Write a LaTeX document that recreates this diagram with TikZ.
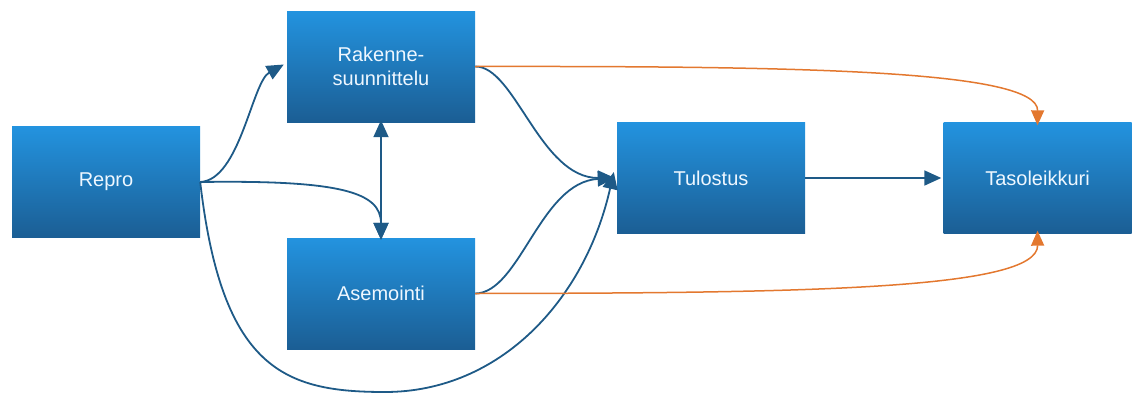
\documentclass[tikz,border=0pt]{standalone}
\usepackage{fontspec}
\setmainfont{Liberation Sans}
\usetikzlibrary{arrows.meta}
\definecolor{boxtop}{HTML}{2393DF}
\definecolor{boxbot}{HTML}{1B5E94}
\definecolor{flowblue}{HTML}{1E5A87}
\definecolor{floworange}{HTML}{E3782F}
\definecolor{labelwhite}{HTML}{EEF7FF}
\tikzset{
  stage/.style={rectangle, minimum width=188pt, minimum height=111pt, inner sep=0pt,
    top color=boxtop, bottom color=boxbot, draw=none,
    text=labelwhite, font=\fontsize{20}{24}\selectfont, align=center},
  bluetip/.tip={Triangle[length=17pt,width=15pt]},
  orangetip/.tip={Triangle[length=15pt,width=13pt]},
  bluelink/.style={draw=flowblue, line width=1.8pt, -bluetip},
  orangelink/.style={draw=floworange, line width=1.5pt, -orangetip},
}
\begin{document}
\begin{tikzpicture}[x=1pt,y=-1pt]
  \useasboundingbox (0,0) rectangle (1134,394);

  % process boxes
  \node[stage] (repro) at (106,182)   {Repro};
  \node[stage] (rak)   at (381,66.5)  {Rakenne-\\suunnittelu};
  \node[stage] (asem)  at (381,293.5) {Asemointi};
  \node[stage] (tul)   at (711,178)   {Tulostus};
  \node[stage] (taso)  at (1037.5,178){Tasoleikkuri};

  % anchors for the incoming arrow tips
  \coordinate (rakin)  at ([xshift=-3pt,yshift=2pt]rak.west);
  \coordinate (tulin)  at ([xshift=-2pt]tul.west);
  \coordinate (tulin2) at ([xshift=-3pt,yshift=6pt]tul.west);
  \coordinate (tastop) at ([yshift=-3pt]taso.north);
  \coordinate (tasbot) at ([yshift=3pt]taso.south);
  \coordinate (low)    at (385,392);

  % blue flows
  \draw[bluelink] (repro.east) .. controls (240,180) and (252,82) .. (rakin);
  \draw[bluelink] (repro.east) .. controls (340,180) and (381,192) .. ([yshift=-2pt]asem.north);
  \draw[bluelink, bluetip-bluetip] ([yshift=2pt]rak.south) -- ([yshift=-2pt]asem.north);
  \draw[flowblue, line width=1.8pt] (repro.east) .. controls (222,370) and (285,392) .. (low);
  \draw[bluelink] (low) .. controls (500,392) and (585,300) .. (tulin2);
  \draw[bluelink] (rak.east) .. controls (515,66) and (540,178) .. (tulin);
  \draw[bluelink] (asem.east) .. controls (520,293) and (540,182) .. (tulin);
  \draw[bluelink] (tul.east) -- ([xshift=-2pt]taso.west);

  % orange flows
  \draw[orangelink] (rak.east) .. controls (800,66) and (1038,70) .. (tastop);
  \draw[orangelink] (asem.east) .. controls (800,293) and (1038,290) .. (tasbot);
\end{tikzpicture}
\end{document}
